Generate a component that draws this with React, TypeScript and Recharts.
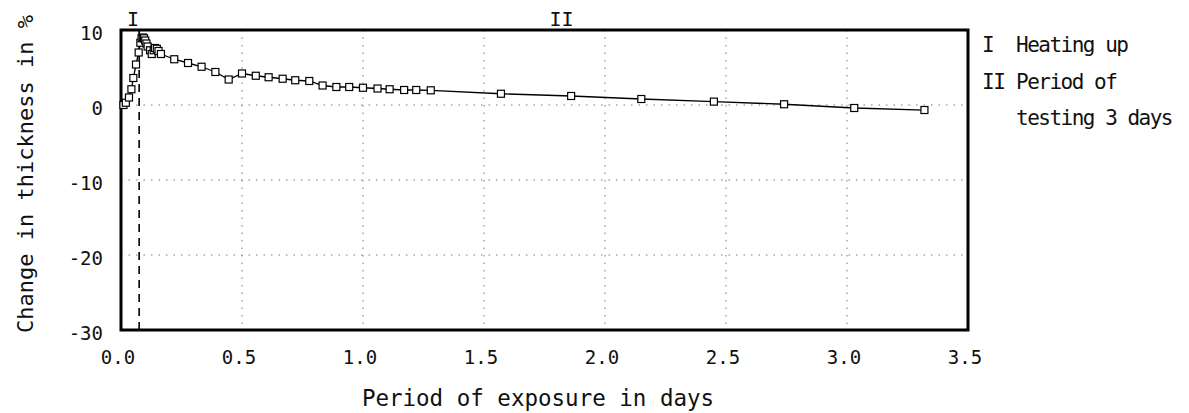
import { ComposedChart, Line, XAxis, YAxis, CartesianGrid, ReferenceLine, ReferenceArea } from "recharts";

// values
const days = [
  0.01, 0.02, 0.033, 0.043, 0.051, 0.062, 0.073, 0.08, 0.085, 0.09, 0.095, 0.1, 0.105, 0.11,
  0.12, 0.127, 0.135, 0.14, 0.148, 0.155, 0.165, 0.22, 0.277, 0.333, 0.39, 0.445, 0.5, 0.557,
  0.61, 0.668, 0.72, 0.778, 0.833, 0.89, 0.943, 1.0, 1.06, 1.11, 1.17, 1.22, 1.28, 1.57, 1.86,
  2.15, 2.45, 2.74, 3.03, 3.32,
];
const thickness = [
  0.0, 0.3, 1.0, 2.1, 3.6, 5.4, 7.0, 8.3, 8.9, 9.0, 8.9, 8.6, 8.2, 7.8,
  7.3, 6.8, 7.3, 7.6, 7.5, 7.2, 6.8, 6.1, 5.6, 5.1, 4.4, 3.4, 4.2, 3.9,
  3.7, 3.5, 3.3, 3.2, 2.6, 2.4, 2.4, 2.3, 2.2, 2.1, 2.0, 2.0, 1.96, 1.5, 1.2,
  0.8, 0.45, 0.1, -0.4, -0.67,
];
const xTicks = [0, 0.5, 1.0, 1.5, 2.0, 2.5, 3.0, 3.5];
const yTicks = [-30, -20, -10, 0, 10];
const heatingEnd = 0.075;
const phaseMarks = [
  { x: 0.05, label: "I" },
  { x: 1.82, label: "II" },
];
const legendItems = [
  { key: "I", text: "Heating up" },
  { key: "II", text: "Period of" },
  { key: "", text: "testing 3 days" },
];

const data = days.map((d, i) => ({ x: d, y: thickness[i] }));

const MONO = "'DejaVu Sans Mono', monospace";
const tickStyle = { fontSize: 19, fontFamily: MONO, fill: "#111" };

const SquareDot = (props: any) => {
  const { cx, cy, index } = props;
  if (cx == null || cy == null) return null;
  return (
    <rect
      key={index}
      x={cx - 3.5}
      y={cy - 3.5}
      width={7}
      height={7}
      fill="#fff"
      stroke="#000"
      strokeWidth={1.2}
    />
  );
};

export default function App() {
  return (
    <div style={{ position: "absolute", left: 0, top: 0, width: 1189, height: 413, background: "#fff" }}>
      <ComposedChart
        width={1189}
        height={413}
        data={data}
        margin={{ top: 30, right: 221, bottom: 0, left: 0 }}
      >
        <CartesianGrid stroke="#777" strokeDasharray="1.5 6" />
        <XAxis
          dataKey="x"
          type="number"
          domain={[0, 3.5]}
          ticks={xTicks}
          tickFormatter={(v) => v.toFixed(1)}
          height={83}
          tickSize={0}
          tickMargin={21}
          tick={{ ...tickStyle, dx: -3 }}
          axisLine={false}
        />
        <YAxis
          type="number"
          domain={[-30, 10]}
          ticks={yTicks}
          width={121}
          tickSize={0}
          tickMargin={18}
          tick={{ ...tickStyle, dy: 3 }}
          axisLine={false}
        />
        <ReferenceArea x1={0} x2={3.5} y1={-30} y2={10} fill="none" stroke="#000" strokeWidth={3} />
        <ReferenceLine x={heatingEnd} stroke="#000" strokeWidth={1.6} strokeDasharray="8 6" />
        {phaseMarks.map((p) => (
          <ReferenceLine
            key={p.label}
            x={p.x}
            stroke="none"
            label={{ value: p.label, position: "top", offset: 4, fontSize: 20, fontFamily: MONO, fill: "#111" }}
          />
        ))}
        <Line
          type="linear"
          dataKey="y"
          stroke="#000"
          strokeWidth={1.3}
          dot={<SquareDot />}
          activeDot={false}
          isAnimationActive={false}
        />
      </ComposedChart>
      <svg
        width={1189}
        height={413}
        style={{ position: "absolute", left: 0, top: 0, pointerEvents: "none" }}
      >
        <text
          x={33}
          y={174}
          transform="rotate(-90 33 174)"
          textAnchor="middle"
          fontFamily={MONO}
          fontSize={22}
          fill="#111"
        >
          Change in thickness in %
        </text>
        <text x={538} y={406} textAnchor="middle" fontFamily={MONO} fontSize={22.5} fill="#111">
          Period of exposure in days
        </text>
        {legendItems.map((item, i) => (
          <g key={i} fontFamily={MONO} fontSize={21} fill="#111" letterSpacing={-1.5}>
            <text x={982} y={52 + i * 36.5}>{item.key}</text>
            <text x={1016} y={52 + i * 36.5}>{item.text}</text>
          </g>
        ))}
      </svg>
    </div>
  );
}
